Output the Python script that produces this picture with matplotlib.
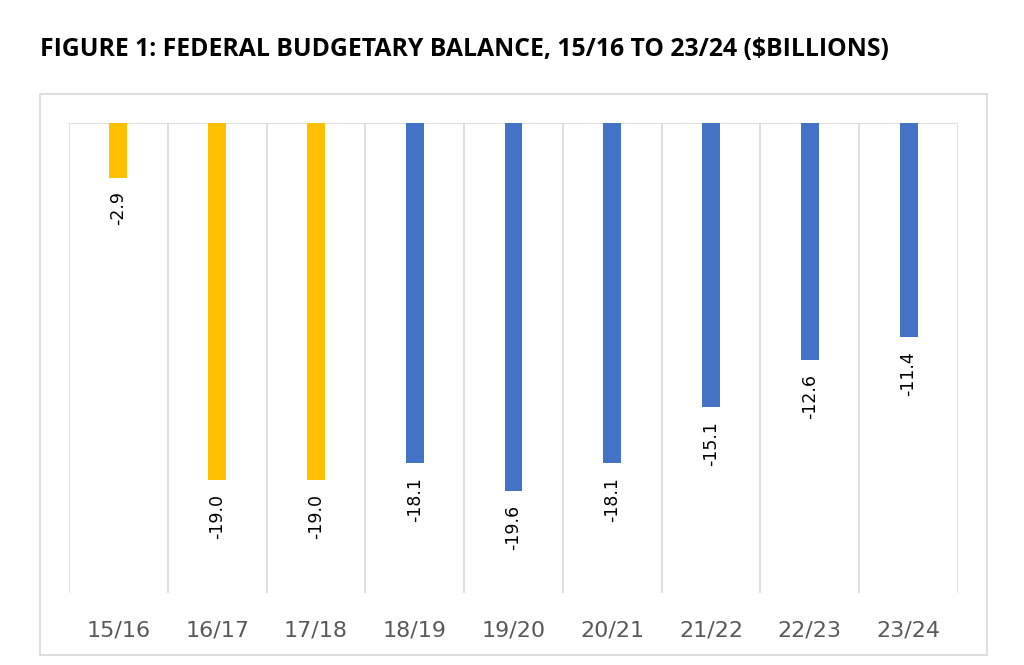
import matplotlib.pyplot as plt
from matplotlib.patches import Rectangle
import numpy as np

years = ['15/16', '16/17', '17/18', '18/19', '19/20', '20/21', '21/22', '22/23', '23/24']
balance = [-2.9, -19.0, -19.0, -18.1, -19.6, -18.1, -15.1, -12.6, -11.4]
bar_colors = ['#FFC000'] * 3 + ['#4472C4'] * 6

fig = plt.figure(figsize=(10.24, 6.65), dpi=100)

# outer chart border
fig.patches.append(Rectangle((40 / 1024, 1 - 655 / 665), 947 / 1024, 561 / 665,
                             transform=fig.transFigure, fill=False,
                             edgecolor='#d9d9d9', linewidth=1.2))

fig.text(40 / 1024, 1 - 56 / 665,
         r'FIGURE 1: FEDERAL BUDGETARY BALANCE, 15/16 TO 23/24 (\$BILLIONS)',
         fontsize=17.8, fontweight='bold', family='Open Sans', color='black')

ax = fig.add_axes([69 / 1024, 1 - 593 / 665, 889 / 1024, 470 / 665])
x = np.arange(len(years))
ax.bar(x, balance, width=0.18, color=bar_colors, zorder=3)

for xi, v in zip(x, balance):
    ax.annotate('%.1f' % v, xy=(xi, v), xytext=(0, -10), textcoords='offset points',
                rotation=90, ha='center', va='top', fontsize=12.5, color='black')

ax.set_xlim(-0.5, len(years) - 0.5)
ax.set_ylim(-25, 0)

for b in np.arange(-0.5, len(years), 1.0):
    ax.axvline(b, color='#d9d9d9', linewidth=1.2, zorder=1)
ax.axhline(0, color='#d9d9d9', linewidth=1.2, zorder=2)

for s in ax.spines.values():
    s.set_visible(False)
ax.set_yticks([])
ax.set_xticks(x)
ax.set_xticklabels(years, fontsize=16, color='#595959')
ax.tick_params(axis='x', length=0, pad=20)

fig.savefig('out.png', dpi=100)
